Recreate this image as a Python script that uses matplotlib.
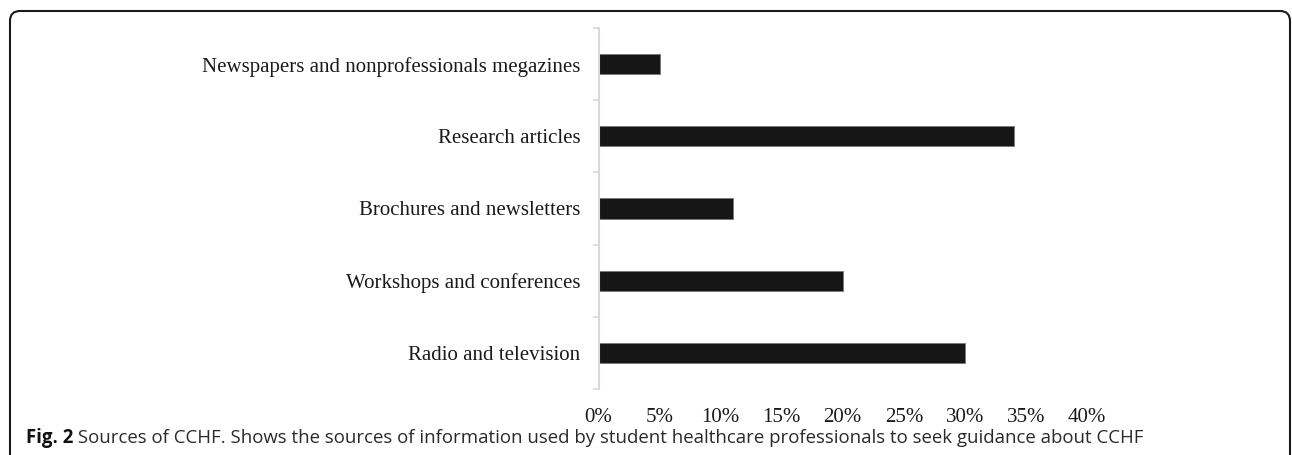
import matplotlib
matplotlib.use('Agg')
import matplotlib.pyplot as plt
from matplotlib.patches import FancyBboxPatch
from matplotlib.transforms import IdentityTransform
import numpy as np

# Data (top to bottom as in the chart)
categories = ['Newspapers and nonprofessionals megazines', 'Research articles',
              'Brochures and newsletters', 'Workshops and conferences',
              'Radio and television']
values = [5, 34, 11, 20, 30]
xtick_vals = [0, 5, 10, 15, 20, 25, 30, 35, 40]
xtick_labels = [f'{v}%' for v in xtick_vals]

W, H = 1292, 455
fig = plt.figure(figsize=(W / 100, H / 100), dpi=100)

# rounded frame (pixel coords), open at the bottom
frame = FancyBboxPatch((10, -60), 1290 - 10, (H - 11) + 60,
                       boxstyle='round,pad=0,rounding_size=10',
                       transform=IdentityTransform(), fill=False,
                       edgecolor='#1a1a1a', linewidth=1.5)
fig.patches.append(frame)

ax = fig.add_axes([598.5 / W, 1 - 389 / H, (1087 - 598.5) / W, (389 - 28) / H])

y = np.arange(len(categories))
ax.barh(y, values, height=0.28, color='#161616', edgecolor='#777777', linewidth=0.6)
ax.set_ylim(len(categories) - 0.5, -0.5)
ax.set_xlim(0, 40)

serif = 'Liberation Serif'
ax.set_yticks(y)
ax.set_yticklabels(categories, fontfamily=serif, fontsize=15, color='#1a1a1a')
ax.set_yticks(np.arange(-0.5, len(categories)), minor=True)
ax.tick_params(axis='y', which='major', length=0, pad=13)
ax.tick_params(axis='y', which='minor', length=4.5, width=1.2, color='#d9d9d9', direction='out')

ax.set_xticks(xtick_vals)
ax.set_xticklabels(xtick_labels, fontfamily=serif, fontsize=15, color='#1a1a1a')
ax.tick_params(axis='x', length=0, pad=14)

for s in ['top', 'right', 'bottom']:
    ax.spines[s].set_visible(False)
ax.spines['left'].set_color('#d9d9d9')
ax.spines['left'].set_linewidth(1.5)

# caption
t1 = fig.text(26 / W, 1 - 438 / H, 'Fig. 2', fontfamily='Open Sans', fontweight='bold',
              fontsize=13.4, va='center', ha='left', color='#111111')
ax.annotate(' Sources of CCHF. Shows the sources of information used by student healthcare '
            'professionals to seek guidance about CCHF',
            xy=(1, 0.5), xycoords=t1, va='center', ha='left',
            fontfamily='Open Sans', fontsize=13.4, color='#2a2a2a', annotation_clip=False)

fig.savefig('out.png', dpi=100)
